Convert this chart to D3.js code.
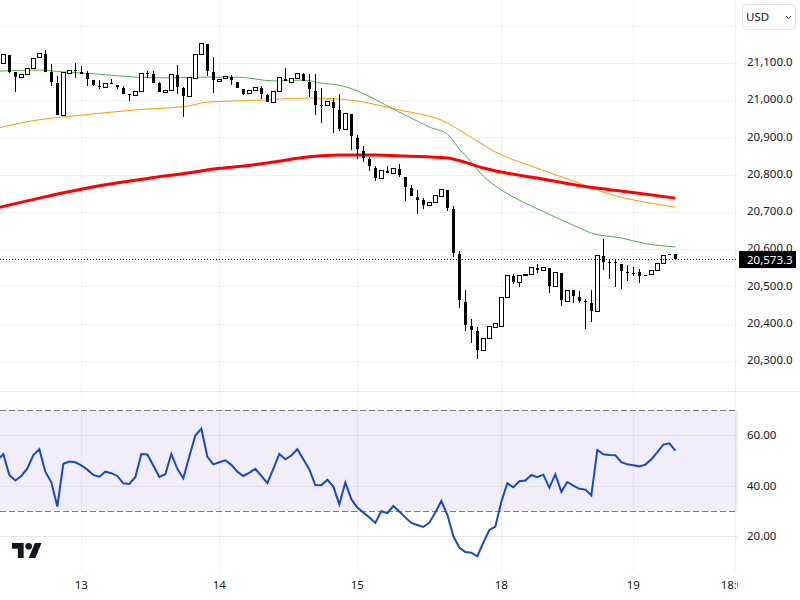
<!DOCTYPE html>
<html>
<head>
<meta charset="utf-8">
<script src="https://cdn.jsdelivr.net/npm/d3@7"></script>
<style>
  html, body { margin: 0; padding: 0; background: #fff; }
  svg { display: block; }
  text { font-family: "Noto Sans", sans-serif; }
</style>
</head>
<body>
<div id="chart"></div>
<script>
// candles, one per session bar
var candleOpen = [21099,21121,21076,21062,21070,21086,21115,21124,21077,21045,20959,21072,21081,21077,21074,21053,21038,21035,21047,21040,
  21032,21018,21013,21024,21072,21071,21046,21021,21027,21068,21032,21011,21059,21124,21151,21075,21051,21059,21062,21049,
  21029,21018,21026,21033,21014,20994,21024,21056,21048,21058,21070,21048,21026,20988,20986,20994,20973,20922,20962,20898,
  20864,20841,20818,20790,20809,20804,20815,20795,20764,20740,20731,20718,20725,20742,20759,20708,20587,20458,20394,20380,
  20328,20360,20390,20393,20471,20528,20511,20531,20532,20549,20543,20549,20500,20535,20460,20489,20471,20461,20454,20433,
  20582,20566,20566,20559,20538,20535,20539,20531,20532,20543,20562,20587,20586];
var candleHigh = [21124,21121,21076,21070,21086,21112,21126,21135,21097,21065,21074,21080,21099,21092,21079,21053,21054,21045,21056,21040,
  21038,21018,21024,21072,21079,21079,21050,21027,21070,21095,21035,21061,21123,21152,21151,21115,21056,21063,21069,21049,
  21029,21026,21034,21038,21018,21024,21061,21086,21058,21071,21072,21070,21070,21032,20997,21006,21016,20965,20962,20906,
  20877,20848,20823,20812,20822,20817,20828,20795,20771,20759,20737,20725,20743,20761,20759,20716,20595,20490,20412,20390,
  20360,20392,20400,20471,20530,20533,20530,20532,20551,20560,20551,20549,20538,20535,20489,20489,20488,20465,20490,20583,
  20626,20573,20573,20559,20557,20551,20546,20531,20542,20562,20583,20587,20586];
var candleLow = [21099,21074,21023,21062,21070,21086,21115,21077,21039,20960,20959,21072,21061,21071,21039,21037,21031,21035,21045,21030,
  21018,20999,21013,21024,21059,21047,21023,21021,21027,21017,20956,21011,21059,21124,21065,21020,21051,21059,21041,21033,
  21015,21018,21026,21004,20996,20994,21024,21051,21048,21058,21052,21010,20960,20938,20986,20913,20918,20922,20866,20843,
  20835,20811,20784,20790,20805,20804,20795,20730,20744,20695,20709,20718,20725,20742,20703,20580,20443,20381,20349,20306,
  20328,20360,20390,20393,20471,20506,20499,20531,20532,20537,20543,20483,20500,20447,20460,20455,20454,20386,20404,20433,
  20544,20521,20499,20494,20515,20527,20510,20530,20532,20543,20562,20583,20572];
var candleClose = [21124,21077,21063,21070,21086,21112,21126,21077,21050,20960,21074,21080,21079,21071,21058,21042,21037,21045,21046,21035,
  21018,21016,21024,21072,21071,21047,21023,21027,21070,21035,21011,21061,21123,21152,21079,21053,21056,21063,21053,21033,
  21018,21026,21034,21018,20996,21024,21061,21051,21058,21071,21052,21030,20988,20987,20997,20979,20924,20965,20904,20870,
  20846,20824,20791,20812,20805,20817,20799,20768,20744,20733,20719,20725,20743,20761,20711,20590,20462,20397,20383,20330,
  20360,20392,20400,20471,20530,20512,20530,20532,20551,20545,20551,20502,20538,20462,20489,20475,20461,20460,20435,20583,
  20566,20565,20565,20542,20535,20534,20529,20530,20542,20562,20583,20583,20573.3];

// moving averages, sampled along the lines
var greenBars = [-1,6,10,16,22,28,33,39,45,50,53,56,59,62,65,68,71,74,76,78,80,82,85,88,92,96,98,103,107,112];
var greenValues = [21078,21081,21076,21070,21062,21060,21062,21062,21052,21054,21046,21040,21025,21002,20976,20952,20928,20909,20869,20834,20796,20770,20740,20716,20686,20657,20643,20630,20615,20606];
var orangeBars = [-1,7,10,22,31,34,41,51,56,59,63,66,74,76,79,82,88,95,101,106,112];
var orangeValues = [20925,20950,20955,20974,20985,20995,20999,21006,21003,20998,20985,20974,20939,20920,20890,20861,20823,20783,20748,20729,20713];
var redBars = [-1,6,16,24,31,36,40,45,51,56,62,67,74,77,80,83,89,97,104,112];
var redValues = [20711,20737,20770,20790,20805,20817,20823,20834,20848,20853,20853,20850,20845,20833,20818,20807,20791,20768,20754,20737];

// RSI, first value sits one bar left of the first candle
var rsiValues = [50.2,52.5,44.3,42.1,43.9,46.9,52.2,54.5,45.6,41.4,31.8,48.7,49.6,49.3,48.1,46.4,44.3,43.6,45.6,45,43.9,
  41,40.7,43.4,52.6,52.4,48,43.5,44.6,52.6,46.7,43,51.6,59.9,62.6,51.6,48.5,49.3,50.1,48.3,45.6,43.9,45.2,46.7,43.9,41.1,
  46.7,52.6,50.5,52,54.5,50.5,46.5,40.3,40.2,42.4,39.7,32.7,41.3,34.7,31.4,29.4,27.5,25.3,29.9,29.2,32,29.8,27.5,25.3,24.5,
  23.7,25.4,29.4,34,28.5,20.1,15.5,13.8,13.5,12.1,17.5,22.5,23.8,33.7,41,39.4,41.8,42.1,44.3,43.4,44.4,39.3,44.6,37.6,41.5,
  40.1,38.8,38.5,36.2,54.2,52.5,52.2,52.1,49.4,48.5,48.1,47.7,48.4,50.5,53.3,56.3,56.8,53.9];

var priceTicks = [21200,21100,21000,20900,20800,20700,20600,20500,20400,20300];
var priceLabels = [21100,21000,20900,20800,20700,20600,20500,20400,20300];
var rsiTicks = [60,40,20];
var rsiBand = [70,30];
var timeBars = [13,36,59,83,105,122];
var timeLabels = ["13","14","15","18","19","18:00"];
var lastPrice = 20573.3;

var w = 800, h = 600, plotW = 738, priceBottom = 391, plotBottom = 571;
var labelSize = "11.5px";

var x = d3.scaleLinear().domain([0, 122]).range([3.33, 735.33]);
var y = d3.scaleLinear().domain([21100, 20300]).range([63, 360.8]);
var yRsi = d3.scaleLinear().domain([60, 20]).range([435.3, 536.3]);

var svg = d3.select("#chart").append("svg")
  .attr("width", w)
  .attr("height", h);

var defs = svg.append("defs");
defs.append("clipPath").attr("id", "plot")
  .append("rect").attr("width", plotW).attr("height", h);

var gridColor = "#eff0f3";

// grid
svg.selectAll("line.vgrid")
  .data(timeBars)
  .enter()
  .append("line")
  .attr("class", "vgrid")
  .attr("x1", function(d) { return Math.round(x(d)) + 0.5; })
  .attr("x2", function(d) { return Math.round(x(d)) + 0.5; })
  .attr("y1", 0)
  .attr("y2", plotBottom)
  .attr("stroke", gridColor);

svg.selectAll("line.hgrid")
  .data(priceTicks)
  .enter()
  .append("line")
  .attr("class", "hgrid")
  .attr("x1", 0)
  .attr("x2", plotW)
  .attr("y1", function(d) { return Math.round(y(d)) + 0.5; })
  .attr("y2", function(d) { return Math.round(y(d)) + 0.5; })
  .attr("stroke", gridColor);

// pane separator
svg.append("line")
  .attr("x1", 0).attr("x2", w)
  .attr("y1", priceBottom + 0.5).attr("y2", priceBottom + 0.5)
  .attr("stroke", "#e0e3eb");

// RSI band
svg.append("rect")
  .attr("x", 0)
  .attr("y", yRsi(rsiBand[0]))
  .attr("width", plotW)
  .attr("height", yRsi(rsiBand[1]) - yRsi(rsiBand[0]))
  .attr("fill", "#7e57c2")
  .attr("fill-opacity", 0.1);

svg.selectAll("line.rsigrid")
  .data(rsiTicks)
  .enter()
  .append("line")
  .attr("class", "rsigrid")
  .attr("x1", 0)
  .attr("x2", plotW)
  .attr("y1", function(d) { return Math.round(yRsi(d)) + 0.5; })
  .attr("y2", function(d) { return Math.round(yRsi(d)) + 0.5; })
  .attr("stroke", "#dfdfe6")
  .attr("stroke-opacity", 0.8);

svg.selectAll("line.band")
  .data(rsiBand)
  .enter()
  .append("line")
  .attr("class", "band")
  .attr("x1", 0)
  .attr("x2", plotW)
  .attr("y1", function(d) { return Math.round(yRsi(d)) + 0.5; })
  .attr("y2", function(d) { return Math.round(yRsi(d)) + 0.5; })
  .attr("stroke", "#787b86")
  .attr("stroke-dasharray", "6 3")
  .attr("shape-rendering", "crispEdges");

// moving averages
function drawAverage(bars, values, color, width) {
  var line = d3.line()
    .x(function(d, i) { return x(bars[i]); })
    .y(function(d) { return y(d); })
    .curve(d3.curveMonotoneX);
  svg.append("path")
    .attr("d", line(values))
    .attr("fill", "none")
    .attr("stroke", color)
    .attr("stroke-width", width);
}
drawAverage(greenBars, greenValues, "#4caf50", 1);
drawAverage(orangeBars, orangeValues, "#ff9800", 1);
drawAverage(redBars, redValues, "#ff0000", 3);

// candles
var candles = svg.append("g").selectAll("g")
  .data(candleOpen)
  .enter()
  .append("g")
  .attr("shape-rendering", "crispEdges");

candles.append("line")
  .attr("x1", function(d, i) { return Math.floor(x(i)) + 0.5; })
  .attr("x2", function(d, i) { return Math.floor(x(i)) + 0.5; })
  .attr("y1", function(d, i) { return y(candleHigh[i]); })
  .attr("y2", function(d, i) { return y(candleLow[i]); })
  .attr("stroke", "#000");

candles.append("rect")
  .attr("x", function(d, i) {
    return candleClose[i] >= candleOpen[i] ? Math.floor(x(i)) - 1.5 : Math.floor(x(i)) - 1;
  })
  .attr("y", function(d, i) { return y(Math.max(candleOpen[i], candleClose[i])); })
  .attr("width", function(d, i) { return candleClose[i] >= candleOpen[i] ? 4 : 3; })
  .attr("height", function(d, i) {
    return Math.max(1, Math.abs(y(candleOpen[i]) - y(candleClose[i])));
  })
  .attr("fill", function(d, i) { return candleClose[i] >= candleOpen[i] ? "#fff" : "#000"; })
  .attr("stroke", function(d, i) { return candleClose[i] >= candleOpen[i] ? "#000" : "none"; });

// last price line
svg.append("line")
  .attr("x1", 0)
  .attr("x2", plotW)
  .attr("y1", Math.round(y(lastPrice)) + 0.5)
  .attr("y2", Math.round(y(lastPrice)) + 0.5)
  .attr("stroke", "#000")
  .attr("stroke-dasharray", "1 2");

// RSI line
var rsiLine = d3.line()
  .x(function(d, i) { return x(i - 1); })
  .y(function(d) { return yRsi(d); });

svg.append("path")
  .attr("d", rsiLine(rsiValues))
  .attr("fill", "none")
  .attr("stroke", "#1848cc")
  .attr("stroke-width", 2);

// right scales
var priceAxis = d3.axisRight(y)
  .tickValues(priceLabels)
  .tickSize(0)
  .tickPadding(0)
  .tickFormat(d3.format(",.1f"));

var gPrice = svg.append("g")
  .attr("transform", "translate(747,-1)")
  .call(priceAxis);

var rsiAxis = d3.axisRight(yRsi)
  .tickValues(rsiTicks)
  .tickSize(0)
  .tickPadding(0)
  .tickFormat(d3.format(".2f"));

var gRsi = svg.append("g")
  .attr("transform", "translate(747,0)")
  .call(rsiAxis);

// time scale
var timeAxis = d3.axisBottom(x)
  .tickValues(timeBars)
  .tickSize(0)
  .tickPadding(0)
  .tickFormat(function(d, i) { return timeLabels[i]; });

var gTime = svg.append("g")
  .attr("clip-path", "url(#plot)")
  .append("g")
  .attr("transform", "translate(-0.5,581)")
  .call(timeAxis);

[gPrice, gRsi, gTime].forEach(function(g) {
  g.select(".domain").remove();
  g.selectAll("text")
    .attr("font-size", labelSize)
    .attr("font-family", '"Noto Sans", sans-serif')
    .attr("fill", "#131722");
});

// last price tag
svg.append("rect")
  .attr("x", 739)
  .attr("y", y(lastPrice) - 8)
  .attr("width", 57)
  .attr("height", 17)
  .attr("fill", "#000");

svg.append("text")
  .attr("x", 747)
  .attr("y", y(lastPrice) + 4.5)
  .attr("font-size", labelSize)
  .attr("fill", "#fff")
  .text(d3.format(",.1f")(lastPrice));

// currency button
svg.append("rect")
  .attr("x", 742.5)
  .attr("y", 4.5)
  .attr("width", 53)
  .attr("height", 25)
  .attr("rx", 4)
  .attr("fill", "#fff")
  .attr("stroke", "#e0e3eb");

svg.append("text")
  .attr("x", 746)
  .attr("y", 21)
  .attr("font-size", labelSize)
  .attr("fill", "#131722")
  .text("USD");

svg.append("path")
  .attr("d", "M786 16l2.5 2.5l2.5-2.5")
  .attr("fill", "none")
  .attr("stroke", "#131722");

// logo
var logo = svg.append("g")
  .attr("transform", "translate(12,539.7) scale(0.833)")
  .attr("fill", "#131722");
logo.append("path").attr("d", "M14 22H7V11H0V4h14v18zM28 22h-8l7.5-18h8L28 22z");
logo.append("circle").attr("cx", 20).attr("cy", 8).attr("r", 4);
</script>
</body>
</html>
